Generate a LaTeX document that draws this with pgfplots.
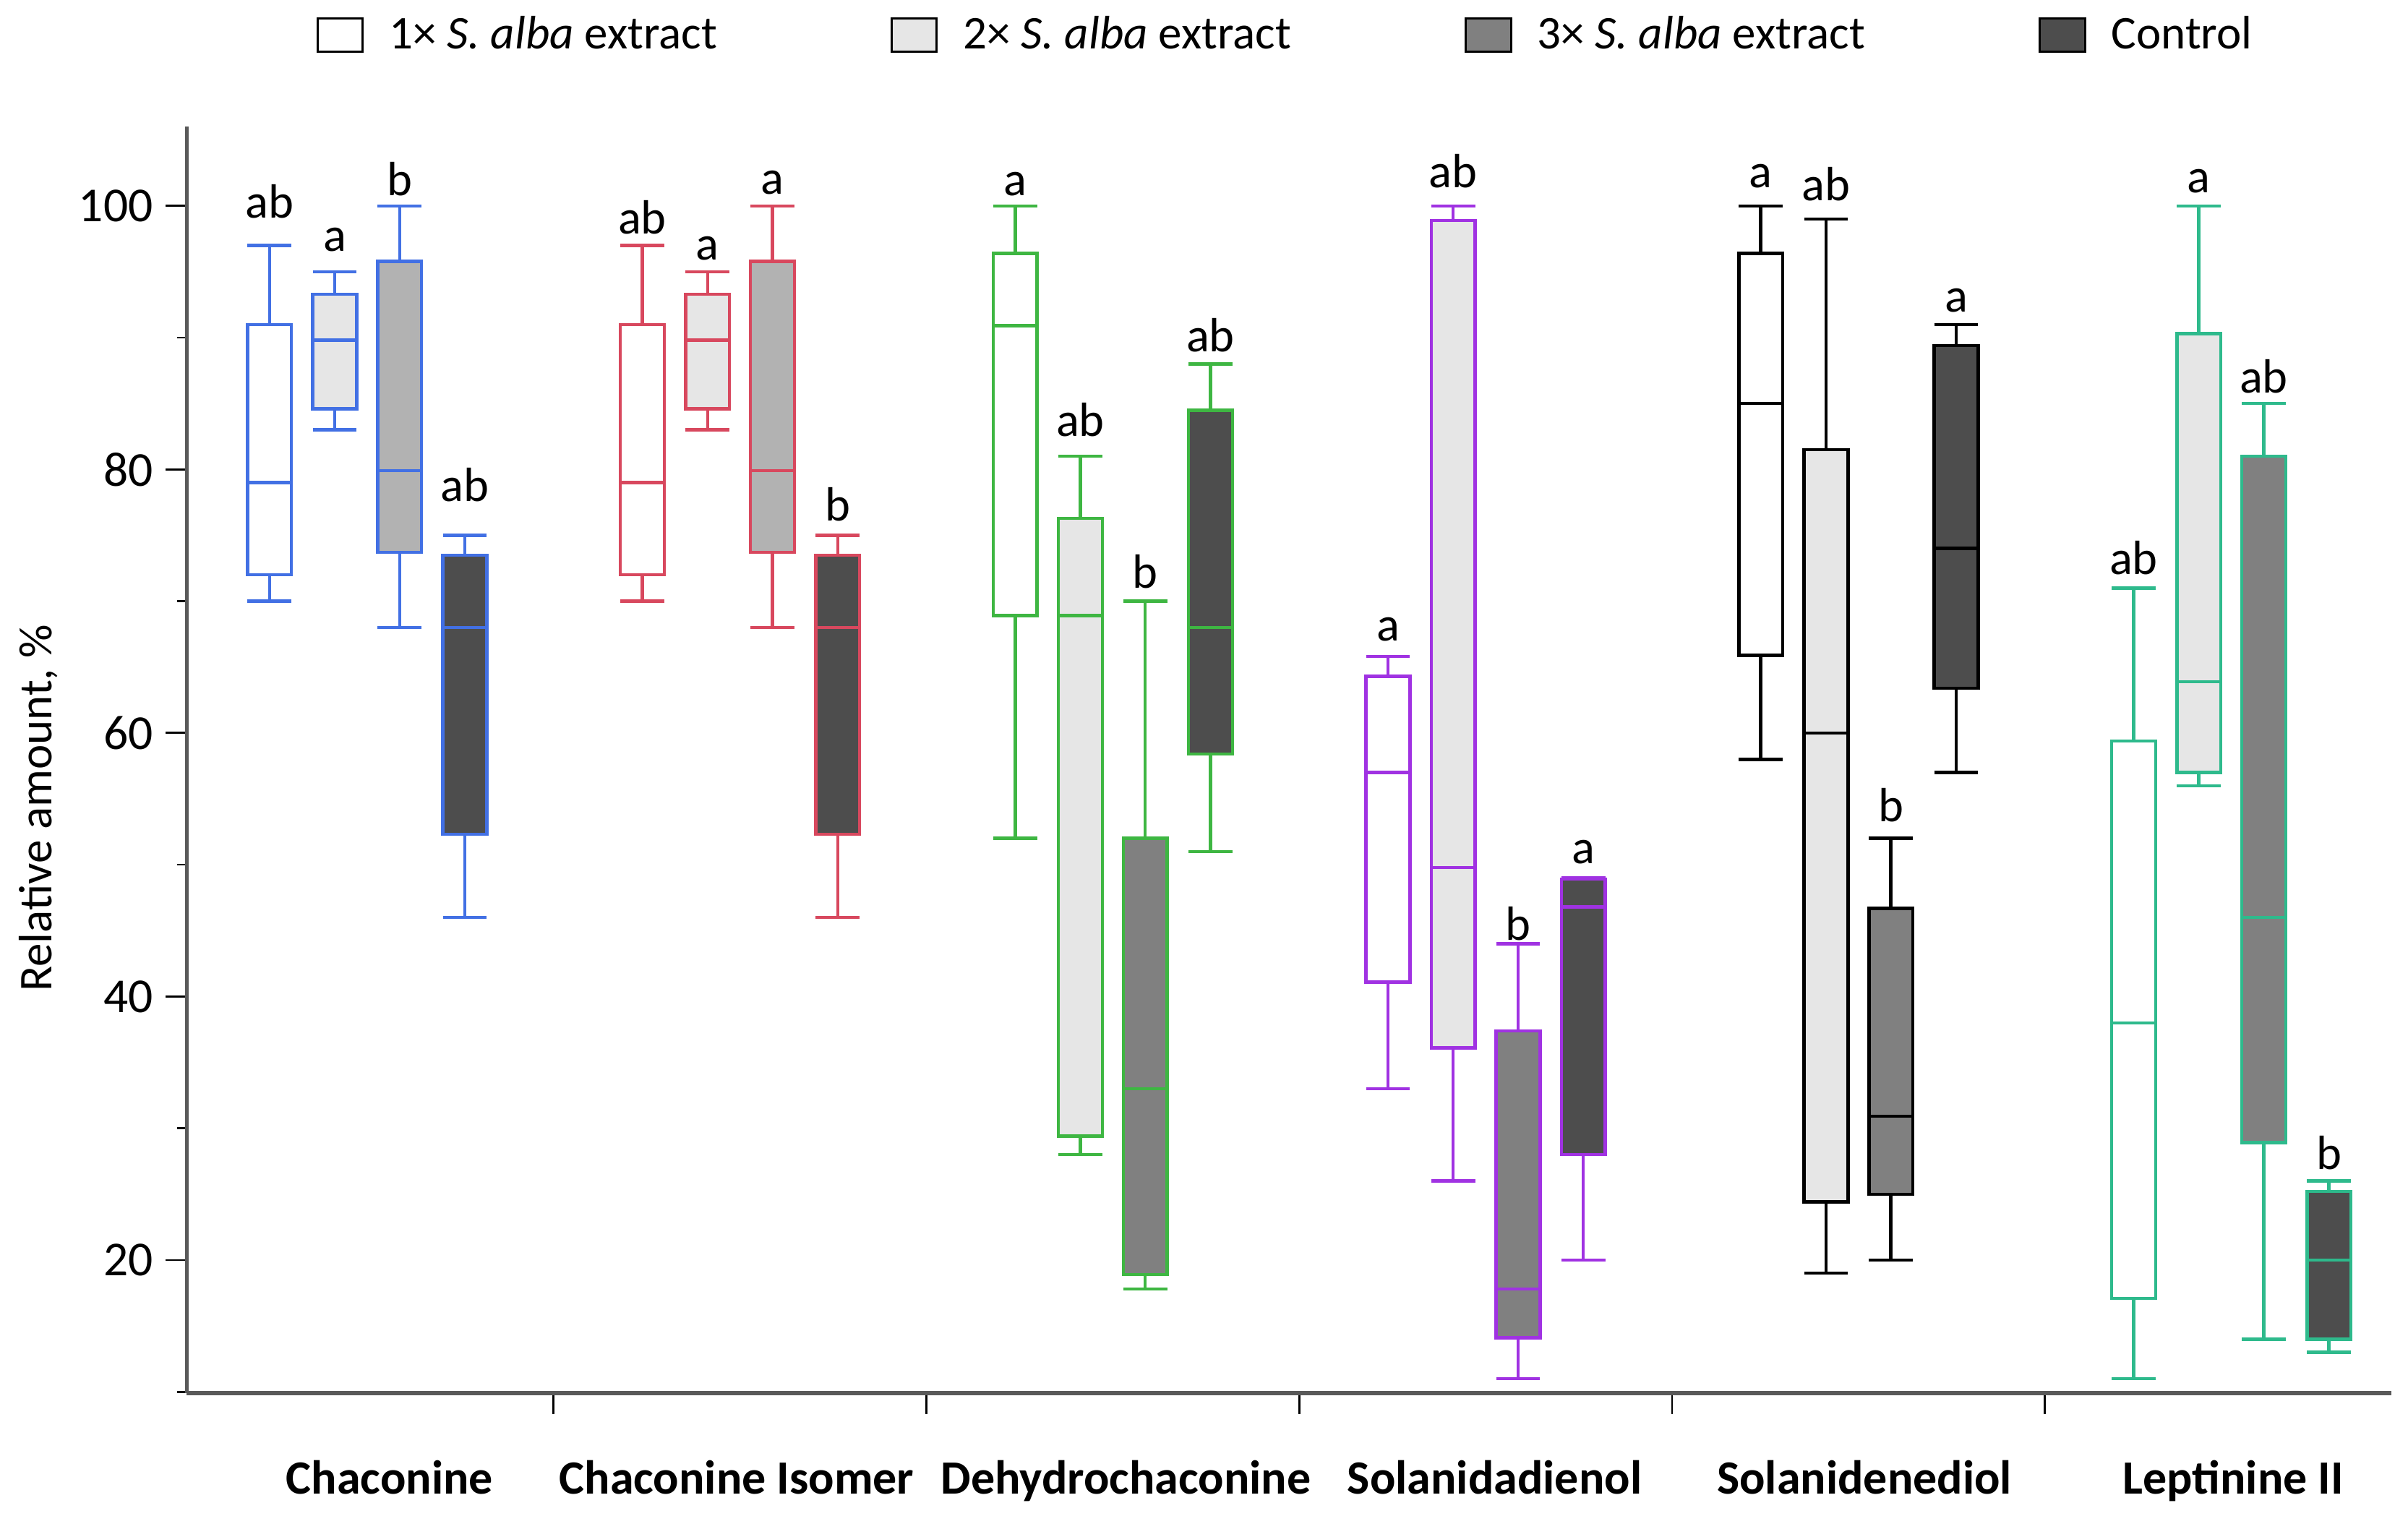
\documentclass[border=0pt]{standalone}
\usepackage{fontspec}
\setmainfont{Carlito}
\usepackage{pgfplots}
\pgfplotsset{compat=1.18}

\definecolor{cblue}{RGB}{66,112,228}
\definecolor{cred}{RGB}{216,72,94}
\definecolor{cgreen}{RGB}{62,182,66}
\definecolor{cpurple}{RGB}{160,50,226}
\definecolor{cteal}{RGB}{46,186,140}
\definecolor{fA}{RGB}{255,255,255}
\definecolor{fB}{RGB}{230,230,230}
\definecolor{fC}{RGB}{128,128,128}
\definecolor{fCl}{RGB}{178,178,178}
\definecolor{fD}{RGB}{77,77,77}

% box: #1 left, #2 centre, #3 right, #4 lower whisker, #5 lower quartile, #6 median,
%      #7 upper quartile, #8 upper whisker, #9 style (draw colour, fill)
\newcommand{\mb}[9]{%
  \addplot[#9, line width=0.9pt, line join=miter, line cap=rect]
    coordinates {(#1,#5) (#3,#5) (#3,#7) (#1,#7) (#1,#5)};
  \addplot[#9, fill=none, line width=0.9pt, unbounded coords=jump]
    coordinates {(#1,#8) (#3,#8) (#2,nan) (#2,#8) (#2,#7) (#2,nan) (#1,#6) (#3,#6) (#2,nan)
                 (#2,#5) (#2,#4) (#2,nan) (#1,#4) (#3,#4)};%
}
\newcommand{\lab}[3]{\node[font=\fontsize{13.3}{15}\selectfont, anchor=base, inner sep=0pt] at (axis cs:#1,#2) {#3};}

\begin{document}
\begin{tikzpicture}
\begin{axis}[
  name=ax, at={(0,0)}, anchor=south west,
  width=610pt, height=350.3pt, scale only axis,
  xmin=-0.484, xmax=5.43, ymin=9.9, ymax=106,
  clip=false,
  axis lines*=left,
  axis line style={black!65, line width=1.1pt},
  tick align=outside,
  major tick length=5.8pt, minor tick length=2.7pt,
  tick style={black, line width=0.55pt},
  xtick={0.5,1.5,2.5,3.5,4.5}, xticklabels={},
  extra x ticks={0.06,0.991,2.035,3.024,4.016,5.005},
  extra x tick labels={Chaconine,Chaconine Isomer,Dehydrochaconine,Solanidadienol,Solanidenediol,Leptinine II},
  extra x tick style={major tick length=0pt,
    tick label style={font=\bfseries\fontsize{13.2}{15}\selectfont, anchor=base, yshift=-27.9pt}},
  ytick={20,40,60,80,100},
  minor ytick={10,30,50,70,90},
  /pgf/number format/assume math mode=true,
  yticklabel style={font=\fontsize{13.5}{15}\selectfont},
  ylabel={Relative amount, \%},
  every axis y label/.style={at={(axis description cs:-0.0672,0.462)}, rotate=90, anchor=center,
    font=\fontsize{13}{15}\selectfont},
  legend image code/.code={\draw[#1, line width=0.6pt] (0pt,-4.6pt) rectangle (12.5pt,4.6pt);},
  legend columns=4,
  legend style={draw=none, fill=none, at={(axis description cs:0.5036,1)}, anchor=center, yshift=25.3pt,
    font=\fontsize{13}{15}\selectfont,
    nodes={inner xsep=7pt},
    /tikz/every even column/.append style={column sep=41pt}},
]
\addlegendimage{draw=black, fill=fA}
\addlegendentry{1× \textit{S. alba} extract}
\addlegendimage{draw=black, fill=fB}
\addlegendentry{2× \textit{S. alba} extract}
\addlegendimage{draw=black, fill=fC}
\addlegendentry{3× \textit{S. alba} extract}
\addlegendimage{draw=black, fill=fD}
\addlegendentry{Control}

% Chaconine
\mb{-0.321}{-0.262}{-0.203}{70}{72}{79}{91}{97}{draw=cblue,fill=fA}
\mb{-0.146}{-0.087}{-0.028}{83}{84.6}{89.8}{93.3}{95}{draw=cblue,fill=fB}
\mb{0.028}{0.087}{0.146}{68}{73.7}{79.9}{95.8}{100}{draw=cblue,fill=fCl}
\mb{0.203}{0.262}{0.321}{46}{52.3}{68}{73.5}{75}{draw=cblue,fill=fD}
% Chaconine Isomer
\mb{0.679}{0.738}{0.797}{70}{72}{79}{91}{97}{draw=cred,fill=fA}
\mb{0.854}{0.913}{0.972}{83}{84.6}{89.8}{93.3}{95}{draw=cred,fill=fB}
\mb{1.028}{1.087}{1.146}{68}{73.7}{79.9}{95.8}{100}{draw=cred,fill=fCl}
\mb{1.203}{1.262}{1.321}{46}{52.3}{68}{73.5}{75}{draw=cred,fill=fD}
% Dehydrochaconine
\mb{1.679}{1.738}{1.797}{52}{68.9}{90.9}{96.4}{100}{draw=cgreen,fill=fA}
\mb{1.854}{1.913}{1.972}{28}{29.4}{68.9}{76.3}{81}{draw=cgreen,fill=fB}
\mb{2.028}{2.087}{2.146}{17.8}{18.9}{33.0}{52}{70}{draw=cgreen,fill=fC}
\mb{2.203}{2.262}{2.321}{51}{58.4}{68}{84.5}{88}{draw=cgreen,fill=fD}
% Solanidadienol
\mb{2.679}{2.738}{2.797}{33}{41.1}{57}{64.3}{65.8}{draw=cpurple,fill=fA}
\mb{2.854}{2.913}{2.972}{26}{36.1}{49.8}{98.9}{100}{draw=cpurple,fill=fB}
\mb{3.028}{3.087}{3.146}{11}{14.1}{17.8}{37.4}{44}{draw=cpurple,fill=fC}
\mb{3.203}{3.262}{3.321}{20}{28}{46.8}{48.9}{49}{draw=cpurple,fill=fD}
% Solanidenediol
\mb{3.679}{3.738}{3.797}{58}{65.9}{85}{96.4}{100}{draw=black,fill=fA}
\mb{3.854}{3.913}{3.972}{19}{24.4}{60}{81.5}{99}{draw=black,fill=fB}
\mb{4.028}{4.087}{4.146}{20}{25}{30.9}{46.7}{52}{draw=black,fill=fC}
\mb{4.203}{4.262}{4.321}{57}{63.4}{74}{89.4}{91}{draw=black,fill=fD}
% Leptinine II
\mb{4.679}{4.738}{4.797}{11}{17.1}{38}{59.4}{71}{draw=cteal,fill=fA}
\mb{4.854}{4.913}{4.972}{56}{57}{63.9}{90.3}{100}{draw=cteal,fill=fB}
\mb{5.028}{5.087}{5.146}{14}{28.9}{46}{81}{85}{draw=cteal,fill=fC}
\mb{5.203}{5.262}{5.321}{13}{14}{20}{25.2}{26}{draw=cteal,fill=fD}

% significance letters
\lab{-0.262}{99.1}{ab}\lab{-0.087}{96.55}{a}\lab{0.087}{100.8}{b}\lab{0.262}{77.55}{ab}
\lab{0.738}{97.9}{ab}\lab{0.913}{95.9}{a}\lab{1.087}{100.9}{a}\lab{1.262}{76.1}{b}
\lab{1.738}{100.8}{a}\lab{1.913}{82.5}{ab}\lab{2.087}{71.0}{b}\lab{2.262}{88.95}{ab}
\lab{2.738}{66.97}{a}\lab{2.913}{101.4}{ab}\lab{3.087}{44.3}{b}\lab{3.262}{50.1}{a}
\lab{3.738}{101.4}{a}\lab{3.913}{100.4}{ab}\lab{4.087}{53.25}{b}\lab{4.262}{91.95}{a}
\lab{4.738}{72.05}{ab}\lab{4.913}{101.0}{a}\lab{5.087}{85.8}{ab}\lab{5.262}{26.9}{b}
\end{axis}
\pgfresetboundingbox
\path[use as bounding box] ([shift={(-51.66pt,-34pt)}]ax.south west) rectangle ([shift={(4.54pt,35.1pt)}]ax.north east);
\end{tikzpicture}
\end{document}
